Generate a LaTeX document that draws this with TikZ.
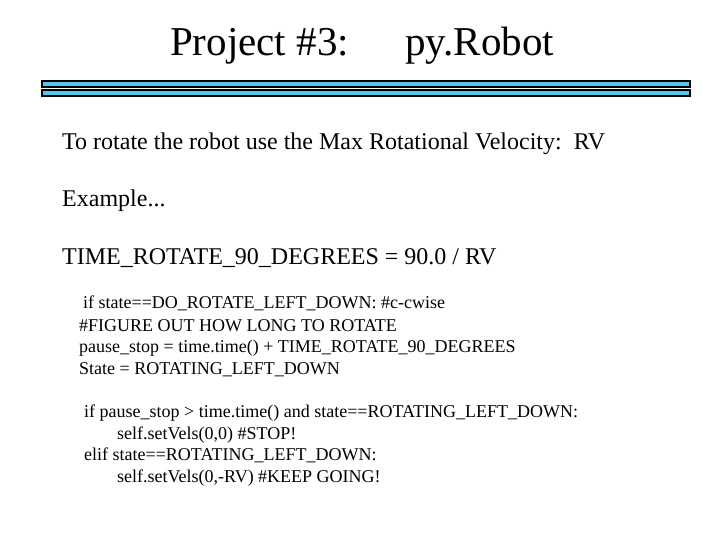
\documentclass[tikz,border=0pt]{standalone}
\usepackage{fontspec}
\setmainfont{Liberation Serif}
\definecolor{barblue}{RGB}{80,200,240}
\begin{document}
\begin{tikzpicture}[x=1pt,y=-1pt,
  bar/.style={draw=black,line width=1.5pt,fill=barblue},
  big/.style={anchor=base west,inner sep=0,font=\fontsize{24}{28}\selectfont},
  code/.style={anchor=base west,inner sep=0,font=\fontsize{18}{20}\selectfont}]
\useasboundingbox (0,0) rectangle (720,540);
\node[anchor=base west,inner sep=0,font=\fontsize{41}{45}\selectfont] (t1) at (170,56) {Project \#3:};
\node[anchor=base west,inner sep=0,font=\fontsize{41}{45}\selectfont] (t2) at (405,56) {py.Robot};
\draw[bar] (42,81) rectangle (690,87);
\draw[bar] (42,90) rectangle (690,96);
\node[big] (a) at (62,150) {To rotate the robot use the Max Rotational Velocity:\ \ RV};
\node[big] (b) at (62,207) {Example...};
\node[big] (c) at (62,264) {TIME\_ROTATE\_90\_DEGREES = 90.0 / RV};
\node[code] (d1) at (83,308) {if state==DO\_ROTATE\_LEFT\_DOWN: \#c-cwise};
\node[code] (d2) at (79,331) {\#FIGURE OUT HOW LONG TO ROTATE};
\node[code] (d3) at (79,352) {pause\_stop = time.time() + TIME\_ROTATE\_90\_DEGREES};
\node[code] (d4) at (79,374) {State = ROTATING\_LEFT\_DOWN};
\node[code] (e1) at (84,417) {if pause\_stop > time.time() and state==ROTATING\_LEFT\_DOWN:};
\node[code] (e2) at (117,439) {self.setVels(0,0) \#STOP!};
\node[code] (e3) at (84,460) {elif state==ROTATING\_LEFT\_DOWN:};
\node[code] (e4) at (117,482) {self.setVels(0,-RV) \#KEEP GOING!};
\end{tikzpicture}
\end{document}
